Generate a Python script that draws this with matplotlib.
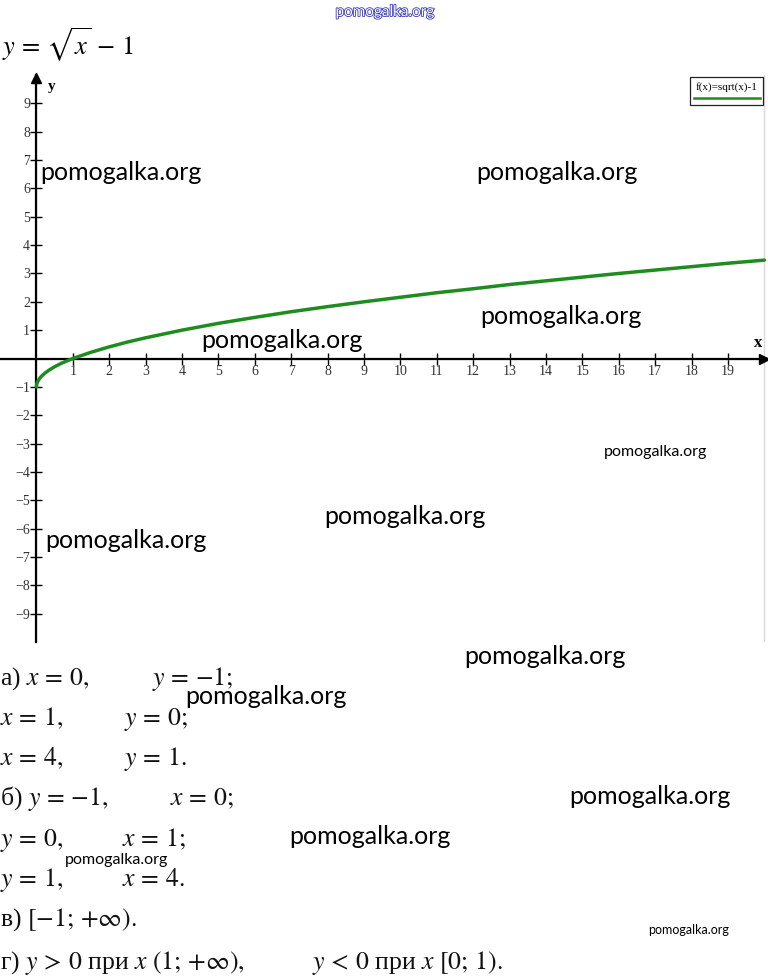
import matplotlib

matplotlib.use("Agg")

import matplotlib.pyplot as plt  # noqa: E402
import matplotlib.patheffects as pe  # noqa: E402
from matplotlib.patches import Rectangle  # noqa: E402

plt.rcParams["mathtext.fontset"] = "stix"
plt.rcParams["font.family"] = ["Liberation Serif", "DejaVu Serif"]

W, H = 768, 976

# points of the green curve
curve_x = [0, 0.01, 0.03, 0.06, 0.1, 0.16, 0.25, 0.36, 0.5, 0.7, 1, 1.5, 2, 2.5, 3,
           4, 5, 6, 7, 8, 9, 10, 11, 12, 13, 14, 15, 16, 17, 18, 19, 20]
curve_y = [-1, -0.9, -0.83, -0.76, -0.68, -0.6, -0.5, -0.4, -0.29, -0.16, 0, 0.22,
           0.41, 0.58, 0.73, 1, 1.24, 1.45, 1.65, 1.83, 2, 2.16, 2.32, 2.46, 2.61,
           2.74, 2.87, 3, 3.12, 3.24, 3.36, 3.47]
x_ticks = list(range(1, 20))
y_ticks = [-9, -8, -7, -6, -5, -4, -3, -2, -1, 1, 2, 3, 4, 5, 6, 7, 8, 9]
legend_label = "f(x)=sqrt(x)-1"

# solution text: (baseline y px, [(x px, text), ...])
answer_lines = [
    (685, [(0, "а) $x\\,=\\,0,$"), (152, "$y\\,=\\,{-}1;$")]),
    (725, [(0, "$x\\,=\\,1,$"), (124, "$y\\,=\\,0;$")]),
    (765, [(0, "$x\\,=\\,4,$"), (124, "$y\\,=\\,1.$")]),
    (805, [(0, "б) $y\\,=\\,{-}1,$"), (170, "$x\\,=\\,0;$")]),
    (846, [(0, "$y\\,=\\,0,$"), (122, "$x\\,=\\,1;$")]),
    (886, [(0, "$y\\,=\\,1,$"), (122, "$x\\,=\\,4.$")]),
    (926, [(0, "в) $[{-}1;\\,{+}\\infty).$")]),
    (969, [(0, "г) $y\\,>\\,0$ при $x\\ (1;\\,{+}\\infty),$"),
           (312, "$y\\,<\\,0$ при $x\\ [0;\\,1).$")]),
]

# watermarks: (x center px, y center px, size)
marks = [(121, 172, 18), (557, 172, 18), (561, 316, 18), (282, 340, 18),
         (656, 452, 11.5), (405, 517, 18), (126, 541, 18), (545, 657, 18),
         (266, 696, 18), (650, 797, 18), (370, 836, 18), (117, 860, 11.5),
         (689, 930, 9)]

fig = plt.figure(figsize=(W / 100, H / 100), dpi=100)
ax = fig.add_axes([0, 1 - 642 / H, 1, 567 / H])
ax.set_xlim(-1, 20.1)
ax.set_ylim(-10, 10)

ax.plot(curve_x, curve_y, color="#1f8c1f", lw=2.5, solid_capstyle="round", zorder=4)

ax.set_xticks(x_ticks)
ax.set_yticks(y_ticks)
ax.set_xticks(range(0, 21), minor=True)
ax.set_yticks(range(-9, 10), minor=True)
ax.grid(which="minor", color="#dadada", lw=1.0)
ax.tick_params(which="minor", length=0)
ax.tick_params(which="major", direction="inout", length=9, width=1,
               labelsize=10, labelcolor="#333333")
ax.tick_params(axis="x", pad=0)
ax.tick_params(axis="y", pad=0)
for side in ("top", "right"):
    ax.spines[side].set_visible(False)
for side in ("left", "bottom"):
    ax.spines[side].set_position(("data", 0))
    ax.spines[side].set_linewidth(1.6)
    ax.spines[side].set_zorder(3)

ax.plot(0.995, 0, ">", color="black", ms=7, transform=ax.get_yaxis_transform(),
        clip_on=False)
ax.plot(0, 0.995, "^", color="black", ms=7, transform=ax.get_xaxis_transform(),
        clip_on=False)
ax.text(0.43, 0.98, "y", transform=ax.get_xaxis_transform(), fontsize=11,
        fontweight="bold", ha="center", va="center")
ax.text(0.987, 0.55, "x", transform=ax.get_yaxis_transform(), fontsize=12,
        fontweight="bold", ha="center", va="center")

# legend box
ax.add_patch(Rectangle((0.898, 0.947), 0.095, 0.049, transform=ax.transAxes,
                       facecolor="white", edgecolor="#222222", lw=0.9, zorder=5))
ax.text(0.946, 0.979, legend_label, transform=ax.transAxes, fontsize=8,
        ha="center", va="center", zorder=6)
ax.plot([0.903, 0.99], [0.959, 0.959], transform=ax.transAxes, color="#1f8c1f",
        lw=1.8, zorder=6)

fig.text(2 / W, 1 - 45 / H, r"$y\,=\,\sqrt{x}\,-\,1$", fontsize=19, va="center")

for y_px, parts in answer_lines:
    for x_px, s in parts:
        fig.text(x_px / W, 1 - y_px / H, s, fontsize=18.5, va="baseline",
                 color="#111111")

fig.text(385 / W, 1 - 12 / H, "pomogalka.org", fontsize=11, family="Lato",
         ha="center", va="center", color="white",
         path_effects=[pe.withStroke(linewidth=1.2, foreground="#3535c8")])
for x_px, y_px, size in marks:
    fig.text(x_px / W, 1 - y_px / H, "pomogalka.org", fontsize=size, family="Lato",
             ha="center", va="center", color="black", zorder=10)

fig.savefig("out.png", dpi=100)
plt.close(fig)
